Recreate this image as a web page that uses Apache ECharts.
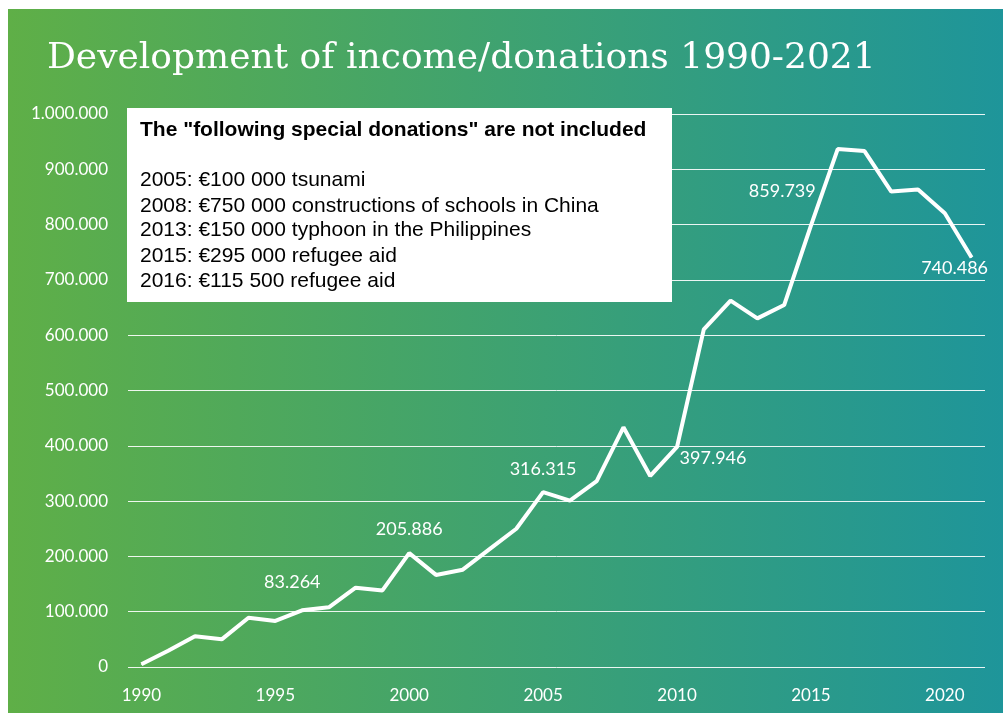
<!DOCTYPE html>
<html>
<head>
<meta charset="utf-8">
<script src="https://cdn.jsdelivr.net/npm/echarts@6/dist/echarts.min.js"></script>
<style>
  html, body { margin: 0; padding: 0; background: #fff; }
  #chart { width: 1006px; height: 715px; }
</style>
</head>
<body>
<div id="chart"></div>
<script>
//== Data
var years = ['1990', '1991', '1992', '1993', '1994', '1995', '1996', '1997', '1998', '1999',
    '2000', '2001', '2002', '2003', '2004', '2005', '2006', '2007', '2008', '2009',
    '2010', '2011', '2012', '2013', '2014', '2015', '2016', '2017', '2018', '2019',
    '2020', '2021'];
var income = [5000, 29500, 55500, 50000, 89000, 83264, 102500, 108000, 143500, 138500,
    205886, 166500, 176000, 213000, 250000, 316315, 301000, 336000, 433500, 345500,
    397946, 610500, 662500, 630500, 654500, 798000, 936500, 933000, 859739, 863500,
    820500, 740486];
var labelledYears = ['1995', '2000', '2005', '2010', '2018', '2021'];
var yTicks = [0, 100000, 200000, 300000, 400000, 500000, 600000, 700000, 800000, 900000, 1000000];
var noteTitle = 'The "following special donations" are not included';
var noteLines = [
    '2005: €100 000 tsunami',
    '2008: €750 000 constructions of schools in China',
    '2013: €150 000 typhoon in the Philippines',
    '2015: €295 000 refugee aid',
    '2016: €115 500 refugee aid'
];

// where each value label sits relative to its point
var labelOffsets = {
    '1995': [17, -39],
    '2000': [0, -24],
    '2005': [0, -23],
    '2010': [36, 11],
    '2018': [-109, 0],
    '2021': [-17, 11]
};

var fmt = function (v) {
    return String(v).replace(/\B(?=(\d{3})+(?!\d))/g, '.');
};

var seriesData = income.map(function (v, i) {
    var y = years[i];
    if (labelledYears.indexOf(y) < 0) {
        return v;
    }
    return {
        value: v,
        label: {
            show: true,
            position: 'inside',
            offset: labelOffsets[y],
            formatter: function (p) { return fmt(p.value); },
            color: '#fff',
            fontFamily: 'Lato',
            fontSize: 18
        }
    };
});

var noteY = [181, 207, 231, 257, 282];
var noteTexts = noteLines.map(function (t, i) {
    return {
        type: 'text', left: 140, top: noteY[i] - 11, z: 101,
        style: { text: t, fill: '#000', font: '21px "Liberation Sans", Arial, sans-serif' }
    };
});

var chart = echarts.init(document.getElementById('chart'), null, { renderer: 'canvas' });

chart.setOption({
    animation: false,
    graphic: [{
        type: 'rect', z: -100,
        shape: { x: 8, y: 9, width: 995, height: 704 },
        style: {
            fill: new echarts.graphic.LinearGradient(0, 0, 1, 0, [
                { offset: 0, color: '#5faf47' },
                { offset: 1, color: '#1e959a' }
            ])
        }
    }, {
        type: 'text', left: 47, top: 41, z: 100,
        style: { text: 'Development of income/donations 1990-2021', fill: '#fff', font: '36px "DejaVu Serif", serif' }
    }, {
        type: 'rect', z: 100,
        shape: { x: 127, y: 108, width: 545, height: 194 },
        style: { fill: '#fff' }
    }, {
        type: 'text', left: 140, top: 120, z: 101,
        style: { text: noteTitle, fill: '#000', font: 'bold 21px "Liberation Sans", Arial, sans-serif' }
    }].concat(noteTexts),
    grid: { left: 128, right: 21, top: 114, bottom: 48 },
    xAxis: {
        type: 'category',
        data: years,
        boundaryGap: true,
        axisLine: { show: false },
        axisTick: { show: false },
        axisLabel: {
            interval: 4,
            color: '#fff',
            fontFamily: 'Lato',
            fontSize: 17,
            margin: 20
        }
    },
    yAxis: {
        type: 'value',
        min: yTicks[0],
        max: yTicks[yTicks.length - 1],
        interval: yTicks[1] - yTicks[0],
        axisLine: { show: false },
        axisTick: { show: false },
        axisLabel: {
            color: '#fff',
            fontFamily: 'Lato',
            fontSize: 17,
            margin: 20,
            formatter: fmt
        },
        splitLine: { lineStyle: { color: 'rgba(255,255,255,0.9)', width: 1 } }
    },
    series: [{
        type: 'line',
        data: seriesData,
        symbol: 'circle',
        symbolSize: 1,
        itemStyle: { color: '#fff' },
        lineStyle: { color: '#fff', width: 4 },
        z: 5
    }]
});
</script>
</body>
</html>
